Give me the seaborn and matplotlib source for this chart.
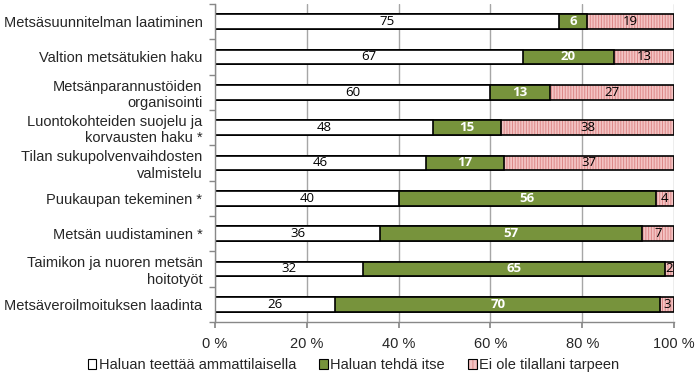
import numpy as np
import pandas as pd
import matplotlib
matplotlib.use("Agg")
import matplotlib.pyplot as plt
import matplotlib.colors as mcolors
import seaborn as sns
from matplotlib.patches import Patch

categories = [
    "Metsäsuunnitelman laatiminen",
    "Valtion metsätukien haku",
    "Metsänparannustöiden\norganisointi",
    "Luontokohteiden suojelu ja\nkorvausten haku *",
    "Tilan sukupolvenvaihdosten\nvalmistelu",
    "Puukaupan tekeminen *",
    "Metsän uudistaminen *",
    "Taimikon ja nuoren metsän\nhoitotyöt",
    "Metsäveroilmoituksen laadinta",
]
ammattilainen = [75, 67, 60, 48, 46, 40, 36, 32, 26]
itse = [6, 20, 13, 15, 17, 56, 57, 65, 70]
ei_tarpeen = [19, 13, 27, 38, 37, 4, 7, 2, 3]
series_names = ["Haluan teettää ammattilaisella", "Haluan tehdä itse", "Ei ole tilallani tarpeen"]
xticks = [0, 20, 40, 60, 80, 100]
xticklabels = ["0 %", "20 %", "40 %", "60 %", "80 %", "100 %"]

sns.set_theme(style="white")
plt.rcParams['font.family'] = ['Liberation Sans', 'DejaVu Sans']

raw = np.array([ammattilainen, itse, ei_tarpeen], dtype=float)
share = raw / raw.sum(axis=0) * 100
cum = np.cumsum(share, axis=0)

df = pd.DataFrame({"cat": categories,
                   "c1": cum[0], "c2": cum[1], "c3": cum[2]})

fig = plt.figure(figsize=(7, 3.76), dpi=100)
ax = fig.add_axes([0.307, 0.1436, 0.656, 0.846])

green = "#77933C"
pink = "#F3C4C4"
hatch_col = "#DD8888"

plt.rcParams['hatch.linewidth'] = 0.7


def tint_hatch(patches, hatch="||||||"):
    for p in patches:
        p.set_hatch(hatch)
        if hasattr(p, "set_hatchcolor"):
            p.set_hatchcolor(hatch_col)
        else:
            p._hatch_color = mcolors.to_rgba(hatch_col)


bw = 0.42
lw = 1.2
sns.barplot(data=df, y="cat", x="c3", orient="h", color=pink, width=bw,
            edgecolor="black", linewidth=lw, ax=ax, saturation=1)
tint_hatch(ax.patches)
sns.barplot(data=df, y="cat", x="c2", orient="h", color=green, width=bw,
            edgecolor="black", linewidth=lw, ax=ax, saturation=1)
sns.barplot(data=df, y="cat", x="c1", orient="h", color="white", width=bw,
            edgecolor="black", linewidth=lw, ax=ax, saturation=1)

ax.set_xlim(0, 100)
ax.set_ylim(len(categories) - 0.5, -0.5)
ax.set_xticks(xticks)
ax.set_xticklabels(xticklabels, fontsize=10.5)
ax.xaxis.grid(True, color="#A6A6A6", linewidth=1.0)
ax.set_axisbelow(True)
ax.set_xlabel("")
ax.set_ylabel("")
ax.tick_params(axis="y", length=0, labelsize=10.5, pad=9)
ax.set_yticks(np.arange(-0.5, len(categories) + 0.5, 1), minor=True)
ax.tick_params(axis="y", which="minor", length=4, color="#888888", direction="out", left=True)
ax.tick_params(axis="x", length=4, color="#888888", direction="out", bottom=True, pad=7)
for s in ["top", "right"]:
    ax.spines[s].set_visible(False)
for s in ["left", "bottom"]:
    ax.spines[s].set_color("#888888")
    ax.spines[s].set_linewidth(1.0)

numfont = ['Open Sans', 'DejaVu Sans']
for i in range(len(categories)):
    ax.text(share[0, i] / 2, i, f"{ammattilainen[i]}", ha="center", va="center",
            fontsize=9.5, color="black", family=numfont)
    ax.text(cum[0, i] + share[1, i] / 2, i, f"{itse[i]}", ha="center", va="center",
            fontsize=9.5, color="white", fontweight="bold", family=numfont)
    ax.text(cum[1, i] + share[2, i] / 2, i, f"{ei_tarpeen[i]}", ha="center", va="center",
            fontsize=9.5, color="black", family=numfont)

leg_pink = Patch(facecolor=pink, edgecolor="black", linewidth=0.8)
tint_hatch([leg_pink], "||||")
handles = [Patch(facecolor="white", edgecolor="black", linewidth=0.8),
           Patch(facecolor=green, edgecolor="black", linewidth=0.8),
           leg_pink]
leg = fig.legend(handles, series_names, loc="center", bbox_to_anchor=(0.505, 0.029),
                 ncol=3, frameon=False, fontsize=10.5, handlelength=0.6, handleheight=0.6,
                 handletextpad=0.15, columnspacing=1.6, borderaxespad=0.0)
tint_hatch([leg.get_patches()[2]], "||||")

fig.savefig("out.png", dpi=100)
